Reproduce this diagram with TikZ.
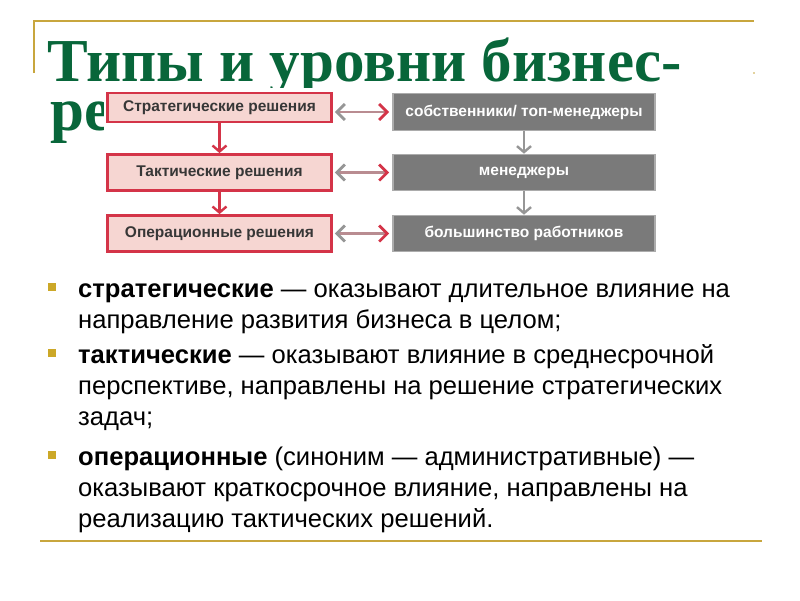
\documentclass[tikz,border=0pt]{standalone}
\usepackage{fontspec}
\setmainfont{Liberation Sans}
\newfontfamily\titlefont{Liberation Serif}
\usetikzlibrary{arrows.meta}

\definecolor{titlegreen}{RGB}{8,102,58}
\definecolor{rulegold}{RGB}{200,166,62}
\definecolor{bulletgold}{RGB}{204,168,40}
\definecolor{boxred}{RGB}{212,52,72}
\definecolor{boxpink}{RGB}{246,214,210}
\definecolor{boxgray}{RGB}{122,122,122}
\definecolor{edgegray}{RGB}{172,172,172}
\definecolor{arrowgray}{RGB}{150,150,150}
\definecolor{arrowmix}{RGB}{185,140,145}
\definecolor{textgray}{RGB}{55,55,55}

\begin{document}
\begin{tikzpicture}[x=1pt, y=-1pt,
    redbox/.style={draw=boxred, line width=2.8pt, fill=boxpink, minimum width=224pt, inner sep=0pt, text=textgray, font=\bfseries\fontsize{15.5}{16}\selectfont},
    graybox/.style={draw=edgegray, line width=1.6pt, fill=boxgray, minimum width=262pt, inner sep=0pt, text=white, font=\bfseries\fontsize{15.5}{16}\selectfont},
    down/.style={-{Straight Barb[length=6pt, width=14pt]}, line width=2.4pt},
    both/.style={{Straight Barb[length=8pt, width=16pt, color=arrowgray]}-{Straight Barb[length=8pt, width=16pt, color=boxred]}, line width=2.8pt, draw=arrowmix, shorten <=2pt, shorten >=3pt},
    bulletbox/.style={fill=bulletgold, minimum size=8pt, inner sep=0pt},
    item/.style={anchor=base west, align=left, inner sep=0pt, font=\fontsize{25.6}{31}\selectfont}]
    \useasboundingbox[fill=white] (0,0) rectangle (800,600);

    % gold rules of the slide
    \draw[rulegold, line width=2pt] (34,73) -- (34,21) -- (754,21);
    \fill[rulegold!50] (753,72) rectangle (755,74);
    \draw[rulegold, line width=2pt] (40,541) -- (762,541);

    % title
    \node[anchor=base west, inner sep=0pt, text=titlegreen, font=\titlefont\bfseries\fontsize{61}{61}\selectfont] (title) at (47,81) {Типы и уровни бизнес-};
    \node[anchor=base west, inner sep=0pt, text=titlegreen, font=\titlefont\bfseries\fontsize{61}{61}\selectfont] (title2) at (50,130) {ре};
    \fill[white] (104,88) rectangle (662,256); % the scheme sits on top of the title

    % levels of decisions
    \node[redbox, minimum height=29pt] (strat) at (219.5,107.5) {Стратегические решения};
    \node[redbox, minimum height=36pt] (takt) at (219.5,172.5) {Тактические решения};
    \node[redbox, minimum height=36pt] (oper) at (219.5,233.5) {Операционные решения};

    \node[graybox, minimum height=37pt] (owners) at (524,112) {собственники/ топ-менеджеры};
    \node[graybox, minimum height=36pt] (managers) at (524,172.5) {менеджеры};
    \node[graybox, minimum height=36pt] (workers) at (524,233.5) {большинство работников};

    \draw[down, boxred] (strat) -- (takt);
    \draw[down, boxred] (takt) -- (oper);
    \draw[down, arrowgray] (owners) -- (managers);
    \draw[down, arrowgray] (managers) -- (workers);

    \draw[both] (strat.east |- owners) -- (owners);
    \draw[both] (takt) -- (managers);
    \draw[both] (oper) -- (workers);

    % bullet list
    \node[bulletbox] (b1) at (52,287) {};
    \node[bulletbox] (b2) at (52,353) {};
    \node[bulletbox] (b3) at (52,455) {};
    \node[item] (i1) at (78,328) {\textbf{стратегические} — оказывают длительное влияние на\\направление развития бизнеса в целом;};
    \node[item] (i2) at (78,425) {\textbf{тактические} — оказывают влияние в среднесрочной\\перспективе, направлены на решение стратегических\\задач;};
    \node[item] (i3) at (78,527) {\textbf{операционные} (синоним — административные) —\\оказывают краткосрочное влияние, направлены на\\реализацию тактических решений.};
\end{tikzpicture}
\end{document}
